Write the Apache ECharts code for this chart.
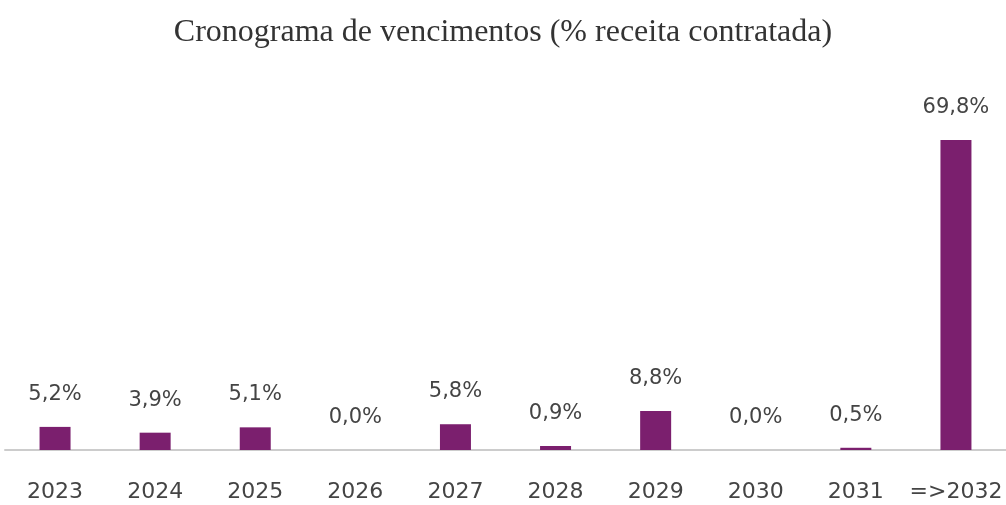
<!DOCTYPE html>
<html>
<head>
<meta charset="utf-8">
<script src="https://cdn.jsdelivr.net/npm/echarts@6/dist/echarts.min.js"></script>
<style>
  html, body { margin: 0; padding: 0; background: #fff; }
  #chart { width: 1006px; height: 505px; }
</style>
</head>
<body>
<div id="chart"></div>
<script>
var anos = ['2023', '2024', '2025', '2026', '2027', '2028', '2029', '2030', '2031', '=>2032'];
var vencimentos = [5.2, 3.9, 5.1, 0.0, 5.8, 0.9, 8.8, 0.0, 0.5, 69.8];

var chartDom = document.getElementById('chart');
var myChart = echarts.init(chartDom);
var option;
option = {
  animation: false,
  title: {
    text: 'Cronograma de vencimentos (% receita contratada)',
    left: 'center',
    top: 12,
    textStyle: {
      fontFamily: 'Liberation Serif',
      fontWeight: 'normal',
      fontSize: 32,
      color: '#333'
    }
  },
  grid: { left: 5, right: 0, top: 139, bottom: 55 },
  xAxis: {
    type: 'category',
    data: anos,
    axisLine: { lineStyle: { color: '#cccccc', width: 2 } },
    axisTick: { show: false },
    axisLabel: {
      interval: 0,
      margin: 31,
      fontFamily: 'DejaVu Sans',
      fontSize: 22,
      color: '#444'
    }
  },
  yAxis: {
    type: 'value',
    min: 0,
    max: 70,
    show: false,
    splitLine: { show: false }
  },
  series: [
    {
      type: 'bar',
      data: vencimentos,
      barWidth: 31,
      itemStyle: { color: '#7b1f6e' },
      label: {
        show: true,
        position: 'top',
        distance: 22,
        fontFamily: 'DejaVu Sans',
        fontSize: 21,
        color: '#444',
        formatter: function (p) {
          return p.value.toFixed(1).replace('.', ',') + '%';
        }
      }
    }
  ]
};

option && myChart.setOption(option);
</script>
</body>
</html>
